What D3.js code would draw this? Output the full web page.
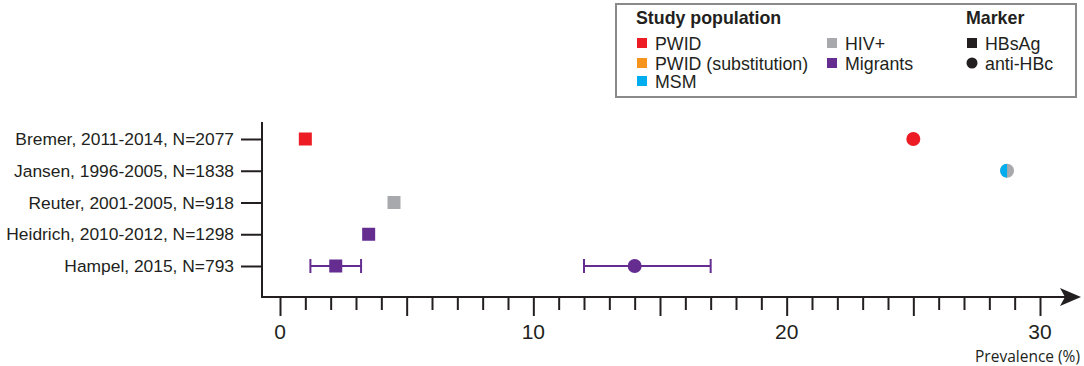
<!DOCTYPE html>
<html lang="en">
<head>
<meta charset="UTF-8">
<title>Prevalence by study</title>
<script src="https://d3js.org/d3.v7.min.js"></script>
<style>
  body { margin: 0; background: #fff; font-family: 'Liberation Sans', Arial, sans-serif; }
  svg { display: block; }
  .study-label { font-size: 17.4px; fill: #231f20; }
  .tick-label { font-size: 21px; fill: #231f20; }
  .legend-text { font-size: 17.8px; fill: #231f20; }
  .legend-title { font-size: 17.8px; font-weight: bold; fill: #231f20; }
</style>
</head>
<body>
<div id="chart"></div>
<script>
// studies, top to bottom
const studies = ["Bremer, 2011-2014, N=2077", "Jansen, 1996-2005, N=1838", "Reuter, 2001-2005, N=918",
                 "Heidrich, 2010-2012, N=1298", "Hampel, 2015, N=793"];

// each point: study index, marker, population(s), value, CI
const pointStudy  = [0, 0, 1, 2, 3, 4, 4];
const pointMarker = ["HBsAg", "anti-HBc", "anti-HBc", "HBsAg", "HBsAg", "HBsAg", "anti-HBc"];
const pointPop    = [["PWID"], ["PWID"], ["MSM", "HIV+"], ["HIV+"], ["Migrants"], ["Migrants"], ["Migrants"]];
const pointValue  = [1.0, 25.0, 28.7, 4.5, 3.5, 2.2, 14.0];
const ciLow       = [null, null, null, null, null, 1.2, 12.0];
const ciHigh      = [null, null, null, null, null, 3.2, 17.0];

const populations = ["PWID", "PWID (substitution)", "MSM", "HIV+", "Migrants"];
const popColors   = ["#ed1c24", "#f7941d", "#00aeef", "#a7a9ac", "#662d91"];
const markers     = ["HBsAg", "anti-HBc"];
const majorTicks  = [0, 10, 20, 30];

const W = 1084, H = 366;
const svg = d3.select("#chart").append("svg").attr("width", W).attr("height", H);

const color = d3.scaleOrdinal().domain(populations).range(popColors);
const x = d3.scaleLinear().domain([0, 30]).range([280, 1040]);
const y = d3.scalePoint().domain(studies).range([139, 266]);
const axisY = 297, axisX = 262;

// y axis
svg.append("line").attr("x1", axisX).attr("x2", axisX).attr("y1", 122).attr("y2", axisY + 1)
  .attr("stroke", "#231f20").attr("stroke-width", 2);
const yAx = svg.append("g").attr("transform", `translate(${axisX},0)`)
  .call(d3.axisLeft(y).tickSize(21).tickPadding(7));
yAx.select(".domain").remove();
yAx.selectAll(".tick line").attr("stroke", "#231f20").attr("stroke-width", 2);
yAx.selectAll(".tick text").attr("class", "study-label").attr("font-family", null).attr("font-size", null).attr("fill", null);

// x axis line with arrow
svg.append("line").attr("x1", axisX - 1).attr("x2", 1068).attr("y1", axisY).attr("y2", axisY)
  .attr("stroke", "#231f20").attr("stroke-width", 2);
svg.append("path").attr("d", `M1060,${axisY - 9} L1081,${axisY} L1060,${axisY + 9} L1065,${axisY} Z`)
  .attr("fill", "#231f20");

const xAx = svg.append("g").attr("transform", `translate(0,${axisY})`)
  .call(d3.axisBottom(x).ticks(30).tickSize(12).tickFormat(""));
xAx.select(".domain").remove();
xAx.selectAll(".tick line").attr("stroke", "#231f20").attr("stroke-width", 2)
  .attr("y2", d => d % 5 === 0 ? 19 : 13);
svg.selectAll(".tick-label").data(majorTicks).enter().append("text")
  .attr("class", "tick-label").attr("x", d => x(d)).attr("y", 339)
  .attr("text-anchor", "middle").text(d => d);
svg.append("text").attr("x", 1080).attr("y", 362).attr("text-anchor", "end")
  .attr("font-family", "'Open Sans', sans-serif").attr("font-size", 15.5).attr("fill", "#231f20")
  .text("Prevalence (%)");

// error bars
const pts = pointValue.map((v, i) => ({ v, s: studies[pointStudy[i]], m: pointMarker[i], p: pointPop[i], lo: ciLow[i], hi: ciHigh[i] }));
const eb = svg.append("g").selectAll("g").data(pts.filter(d => d.lo != null)).enter().append("g")
  .attr("stroke", d => color(d.p[0])).attr("stroke-width", 2);
eb.append("line").attr("x1", d => x(d.lo)).attr("x2", d => x(d.hi)).attr("y1", d => y(d.s)).attr("y2", d => y(d.s));
eb.append("line").attr("x1", d => x(d.lo)).attr("x2", d => x(d.lo)).attr("y1", d => y(d.s) - 7).attr("y2", d => y(d.s) + 7);
eb.append("line").attr("x1", d => x(d.hi)).attr("x2", d => x(d.hi)).attr("y1", d => y(d.s) - 7).attr("y2", d => y(d.s) + 7);

// markers
const defs = svg.append("defs");
const sq = 13, r = 7;
pts.forEach((d, i) => {
  const cx = x(d.v), cy = y(d.s);
  if (d.m === "HBsAg") {
    svg.append("rect").attr("x", cx - sq / 2).attr("y", cy - sq / 2).attr("width", sq).attr("height", sq)
      .attr("fill", color(d.p[0]));
  } else if (d.p.length === 1) {
    svg.append("circle").attr("cx", cx).attr("cy", cy).attr("r", r).attr("fill", color(d.p[0]));
  } else {
    const id = "clipL" + i;
    defs.append("clipPath").attr("id", id).append("rect")
      .attr("x", cx - r).attr("y", cy - r).attr("width", r).attr("height", 2 * r);
    svg.append("circle").attr("cx", cx).attr("cy", cy).attr("r", r).attr("fill", color(d.p[1]));
    svg.append("circle").attr("cx", cx).attr("cy", cy).attr("r", r).attr("fill", color(d.p[0]))
      .attr("clip-path", `url(#${id})`);
  }
});

// legend
const lg = svg.append("g");
lg.append("rect").attr("x", 616).attr("y", 4).attr("width", 460).attr("height", 93)
  .attr("fill", "#fff").attr("stroke", "#8a8a8a").attr("stroke-width", 2);
lg.append("text").attr("class", "legend-title").attr("x", 636).attr("y", 24).text("Study population");
lg.append("text").attr("class", "legend-title").attr("x", 966).attr("y", 24).text("Marker");
const popPos = [[637, 43], [637, 63], [637, 81], [827, 43], [827, 63]];
populations.forEach((p, i) => {
  const [px, py] = popPos[i];
  lg.append("rect").attr("x", px).attr("y", py - 5).attr("width", 10).attr("height", 10).attr("fill", color(p));
  lg.append("text").attr("class", "legend-text").attr("x", px + 18).attr("y", py + 6.5).text(p);
});
markers.forEach((m, i) => {
  const py = 43 + i * 20;
  if (m === "HBsAg") lg.append("rect").attr("x", 967).attr("y", py - 5).attr("width", 10).attr("height", 10).attr("fill", "#231f20");
  else lg.append("circle").attr("cx", 972).attr("cy", py).attr("r", 5.5).attr("fill", "#231f20");
  lg.append("text").attr("class", "legend-text").attr("x", 985).attr("y", py + 6.5).text(m);
});
</script>
</body>
</html>
